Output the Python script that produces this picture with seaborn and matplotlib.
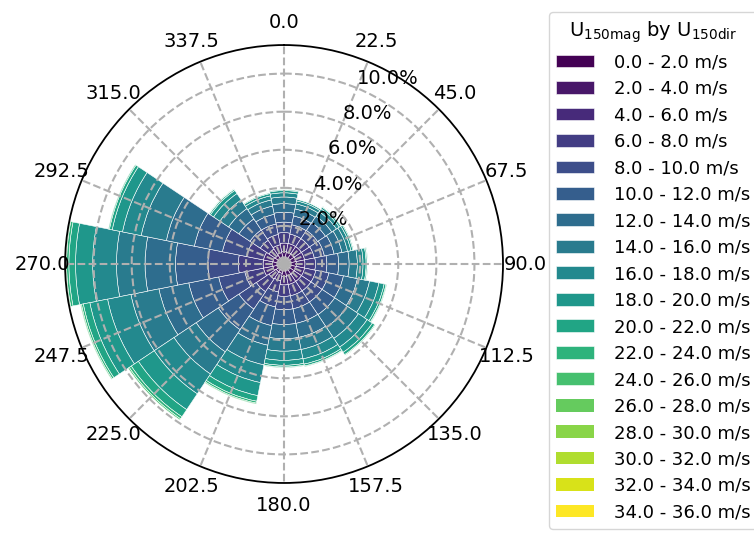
import numpy as np
import matplotlib
matplotlib.use("Agg")
import matplotlib.pyplot as plt
import seaborn as sns

# direction sectors (deg, clockwise from north) and wind speed bins (m/s)
directions = [0.0, 22.5, 45.0, 67.5, 90.0, 112.5, 135.0, 157.5,
              180.0, 202.5, 225.0, 247.5, 270.0, 292.5, 315.0, 337.5]
speed_edges = [0, 2, 4, 6, 8, 10, 12, 14, 16, 18, 20, 22, 24, 26, 28, 30, 32, 34, 36]

# frequency (%) of each speed bin, one list per direction sector
dir_000 = [0.30, 0.35, 0.45, 0.55, 0.55, 0.52, 0.45, 0.35, 0.22, 0.12, 0.05, 0.03, 0.01, 0, 0, 0, 0, 0]
dir_022 = [0.30, 0.35, 0.45, 0.50, 0.50, 0.47, 0.38, 0.27, 0.16, 0.08, 0.03, 0.01, 0, 0, 0, 0, 0, 0]
dir_045 = [0.30, 0.35, 0.45, 0.50, 0.52, 0.50, 0.40, 0.29, 0.18, 0.10, 0.04, 0.02, 0, 0, 0, 0, 0, 0]
dir_067 = [0.30, 0.35, 0.45, 0.52, 0.54, 0.52, 0.42, 0.30, 0.18, 0.10, 0.05, 0.02, 0, 0, 0, 0, 0, 0]
dir_090 = [0.30, 0.35, 0.45, 0.55, 0.60, 0.62, 0.55, 0.43, 0.30, 0.16, 0.06, 0.03, 0, 0, 0, 0, 0, 0]
dir_112 = [0.30, 0.35, 0.45, 0.60, 0.70, 0.78, 0.75, 0.65, 0.50, 0.28, 0.10, 0.04, 0, 0, 0, 0, 0, 0]
dir_135 = [0.30, 0.35, 0.45, 0.60, 0.70, 0.80, 0.80, 0.70, 0.55, 0.33, 0.15, 0.05, 0.02, 0, 0, 0, 0, 0]
dir_157 = [0.30, 0.35, 0.45, 0.60, 0.70, 0.78, 0.75, 0.65, 0.50, 0.28, 0.10, 0.04, 0, 0, 0, 0, 0, 0]
dir_180 = [0.30, 0.35, 0.45, 0.60, 0.70, 0.78, 0.75, 0.65, 0.48, 0.26, 0.09, 0.04, 0, 0, 0, 0, 0, 0]
dir_202 = [0.20, 0.30, 0.40, 0.60, 0.80, 1.00, 1.05, 1.05, 0.95, 0.70, 0.30, 0.10, 0.05, 0, 0, 0, 0, 0]
dir_225 = [0.20, 0.30, 0.45, 0.80, 1.10, 1.30, 1.40, 1.40, 1.25, 1.00, 0.45, 0.13, 0.07, 0, 0, 0, 0, 0]
dir_247 = [0.25, 0.35, 0.50, 1.00, 1.40, 1.60, 1.60, 1.50, 1.25, 0.95, 0.35, 0.10, 0.05, 0, 0, 0, 0, 0]
dir_270 = [0.25, 0.35, 0.50, 1.30, 1.60, 1.70, 1.60, 1.50, 1.25, 0.90, 0.35, 0.12, 0.05, 0.03, 0, 0, 0, 0]
dir_292 = [0.25, 0.35, 0.50, 0.90, 1.30, 1.50, 1.50, 1.35, 1.00, 0.55, 0.15, 0.05, 0, 0, 0, 0, 0, 0]
dir_315 = [0.25, 0.30, 0.40, 0.55, 0.65, 0.70, 0.65, 0.55, 0.40, 0.20, 0.07, 0.03, 0, 0, 0, 0, 0, 0]
dir_337 = [0.28, 0.33, 0.42, 0.55, 0.56, 0.52, 0.44, 0.33, 0.22, 0.12, 0.05, 0.02, 0.01, 0, 0, 0, 0, 0]

freq = np.array([dir_000, dir_022, dir_045, dir_067, dir_090, dir_112, dir_135, dir_157,
                 dir_180, dir_202, dir_225, dir_247, dir_270, dir_292, dir_315, dir_337])

nbins = len(speed_edges) - 1
cmap = sns.color_palette("viridis", as_cmap=True)
colors = cmap(np.linspace(0, 1, nbins))

fig = plt.figure(figsize=(7.54, 5.42), dpi=100)
ax = fig.add_axes([0.0862, 0.1089, 0.581, 0.808], projection="polar")
ax.set_theta_zero_location("N")
ax.set_theta_direction(-1)

theta = np.deg2rad(directions)
width = 2 * np.pi / len(directions)
bottom = np.zeros(len(directions))
for i in range(nbins):
    h = freq[:, i]
    label = f"{float(speed_edges[i]):.1f} - {float(speed_edges[i + 1]):.1f} m/s"
    ax.bar(theta, h, width=width, bottom=bottom, color=colors[i],
           edgecolor="white", linewidth=np.where(h > 0, 0.4, 0.0), label=label)
    bottom = bottom + h

ax.set_ylim(0, bottom.max())
ax.set_xticks(theta)
ax.set_xticklabels([f"{d:.1f}" for d in directions], fontsize=14)
ax.tick_params(axis="x", pad=5.5)
rticks = [2, 4, 6, 8, 10]
ax.set_yticks(rticks)
ax.set_yticklabels([f"{r:.1f}%" for r in rticks], fontsize=14)
ax.grid(True, linestyle="--", color="#b0b0b0", linewidth=1.5)
ax.spines["polar"].set_linewidth(1.3)

fig.legend(loc="upper left", bbox_to_anchor=(549 / 754, 1 - 12 / 542),
           borderaxespad=0,
           title=r"U$_{\mathrm{150mag}}$ by U$_{\mathrm{150dir}}$",
           fontsize=13, title_fontsize=14, handlelength=2.1,
           handletextpad=1.1, labelspacing=0.47)

fig.savefig("out.png", dpi=100)
